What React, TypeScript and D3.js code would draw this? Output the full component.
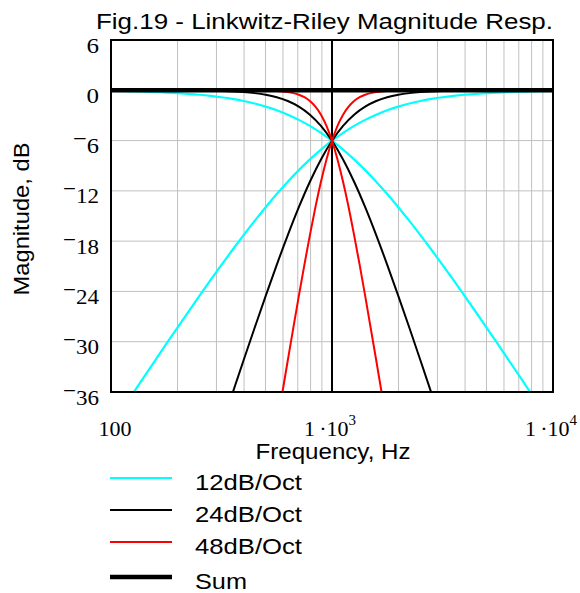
import React from "react";
import * as d3 from "d3";

// ---- Data (frequency in Hz, magnitude in dB) ----
const FREQ = [100, 112.2, 125.9, 141.3, 158.5, 177.8, 199.5, 223.9, 251.2, 281.8, 316.2, 354.8, 398.1, 446.7, 501.2, 562.3, 631.0, 707.9, 794.3, 891.3, 1000, 1122, 1259, 1413, 1585, 1778, 1995, 2239, 2512, 2818, 3162, 3548, 3981, 4467, 5012, 5623, 6310, 7079, 7943, 8913, 10000];

const LP12 = [-0.086, -0.109, -0.137, -0.172, -0.216, -0.270, -0.339, -0.425, -0.532, -0.664, -0.828, -1.030, -1.278, -1.580, -1.947, -2.386, -2.911, -3.529, -4.249, -5.078, -6.021, -7.078, -8.249, -9.529, -10.911, -12.386, -13.947, -15.580, -17.278, -19.030, -20.828, -22.664, -24.532, -26.425, -28.339, -30.270, -32.216, -34.172, -36.137, -38.109, -40.086];
const HP12 = [-40.086, -38.109, -36.137, -34.172, -32.216, -30.270, -28.339, -26.425, -24.532, -22.664, -20.828, -19.030, -17.278, -15.580, -13.947, -12.386, -10.911, -9.529, -8.249, -7.078, -6.021, -5.078, -4.249, -3.529, -2.911, -2.386, -1.947, -1.580, -1.278, -1.030, -0.828, -0.664, -0.532, -0.425, -0.339, -0.270, -0.216, -0.172, -0.137, -0.109, -0.086];

const LP24 = [-0.001, -0.001, -0.002, -0.003, -0.005, -0.009, -0.014, -0.022, -0.035, -0.055, -0.086, -0.137, -0.216, -0.339, -0.532, -0.828, -1.278, -1.947, -2.911, -4.249, -6.021, -8.249, -10.911, -13.947, -17.278, -20.828, -24.532, -28.339, -32.216, -36.137, -40.086, -44.055, -48.035, -52.022, -56.014, -60.009, -64.005, -68.003, -72.002, -76.001, -80.001];
const HP24 = [-80.001, -76.001, -72.002, -68.003, -64.005, -60.009, -56.014, -52.022, -48.035, -44.055, -40.086, -36.137, -32.216, -28.339, -24.532, -20.828, -17.278, -13.947, -10.911, -8.249, -6.021, -4.249, -2.911, -1.947, -1.278, -0.828, -0.532, -0.339, -0.216, -0.137, -0.086, -0.055, -0.035, -0.022, -0.014, -0.009, -0.005, -0.003, -0.002, -0.001, -0.001];

const FREQ48 = [100, 501.2, 530.9, 562.3, 595.7, 631.0, 668.3, 707.9, 749.9, 794.3, 841.4, 891.3, 944.1, 1000, 1059, 1122, 1189, 1259, 1334, 1413, 1496, 1585, 1679, 1778, 1884, 1995, 10000];
const LP48 = [0, -0.035, -0.055, -0.086, -0.137, -0.216, -0.339, -0.532, -0.828, -1.278, -1.947, -2.911, -4.249, -6.021, -8.249, -10.911, -13.947, -17.278, -20.828, -24.532, -28.339, -32.216, -36.137, -40.086, -44.055, -48.035, -160];
const HP48 = [-160, -48.035, -44.055, -40.086, -36.137, -32.216, -28.339, -24.532, -20.828, -17.278, -13.947, -10.911, -8.249, -6.021, -4.249, -2.911, -1.947, -1.278, -0.828, -0.532, -0.339, -0.216, -0.137, -0.086, -0.055, -0.035, 0];

const SUM_FREQ = [100, 10000];
const SUM_DB = [0, 0];

const Y_TICKS = [6, 0, -6, -12, -18, -24, -30, -36];
const X_MINOR = [200, 300, 400, 500, 600, 700, 800, 900, 2000, 3000, 4000, 5000, 6000, 7000, 8000, 9000];
const X_LABELS = [
  { f: 100, base: "100", sup: "" },
  { f: 1000, base: "1\u2009·10", sup: "3" },
  { f: 10000, base: "1\u2009·10", sup: "4" },
];

const LEGEND = [
  { label: "12dB/Oct", color: "#00ffff", w: 2 },
  { label: "24dB/Oct", color: "#000000", w: 2 },
  { label: "48dB/Oct", color: "#ff0000", w: 2 },
  { label: "Sum", color: "#000000", w: 4.5 },
];

const TITLE = "Fig.19 - Linkwitz-Riley Magnitude Resp.";

export default function App() {
  const L = 111, R = 553, T = 40, B = 392;
  const x = d3.scaleLog().domain([100, 10000]).range([L, R]);
  const y = d3.scaleLinear().domain([-36, 6]).range([B, T]);
  const line = (fs: number[], vs: number[]) =>
    d3.line<number>().x((_, i) => x(fs[i])).y((v) => y(v)).curve(d3.curveMonotoneX)(vs) || "";

  const series = [
    { fs: FREQ, vs: LP12, color: "#00ffff", w: 2.2 },
    { fs: FREQ, vs: HP12, color: "#00ffff", w: 2.2 },
    { fs: FREQ, vs: LP24, color: "#000000", w: 2 },
    { fs: FREQ, vs: HP24, color: "#000000", w: 2 },
    { fs: FREQ48, vs: LP48, color: "#ff0000", w: 2 },
    { fs: FREQ48, vs: HP48, color: "#ff0000", w: 2 },
    { fs: SUM_FREQ, vs: SUM_DB, color: "#000000", w: 4.5 },
  ];

  const sans = "'Liberation Sans', Arial, sans-serif";
  const serif = "'Liberation Serif', 'Times New Roman', serif";

  return (
    <svg width={580} height={593} style={{ position: "absolute", left: 0, top: 0, background: "#fff" }}>
      <defs>
        <clipPath id="plot">
          <rect x={L} y={T} width={R - L} height={B - T} />
        </clipPath>
      </defs>
      <rect width={580} height={593} fill="#fff" />
      <text x={96} y={29} fontFamily={sans} fontSize={22} textLength={457} lengthAdjust="spacingAndGlyphs">{TITLE}</text>

      {/* grid */}
      {X_MINOR.map((f) => (
        <line key={"gx" + f} x1={x(f)} x2={x(f)} y1={T} y2={B} stroke="#c0c0c0" strokeWidth={1} />
      ))}
      {Y_TICKS.filter((t) => t !== 6 && t !== -36 && t !== 0).map((t) => (
        <line key={"gy" + t} x1={L} x2={R} y1={y(t)} y2={y(t)} stroke="#c0c0c0" strokeWidth={1} />
      ))}
      <line x1={x(1000)} x2={x(1000)} y1={T} y2={B} stroke="#000" strokeWidth={2} />

      <g clipPath="url(#plot)">
        {series.map((s, i) => (
          <path key={i} d={line(s.fs, s.vs)} fill="none" stroke={s.color} strokeWidth={s.w} />
        ))}
      </g>
      <rect x={L} y={T} width={R - L} height={B - T} fill="none" stroke="#000" strokeWidth={2} />

      {/* y tick labels */}
      {Y_TICKS.map((t) => {
        const s = String(Math.abs(t));
        const len = t < 0 ? (s.length === 1 ? 26 : 36) : 12.5;
        return (
          <text key={"yl" + t} x={99 - len} y={y(t) + 12.5} fontFamily={serif} fontSize={22} textLength={len} lengthAdjust="spacingAndGlyphs">
            {t < 0 ? (
              <>
                <tspan dy={-7}>−</tspan>
                <tspan dy={7}>{s}</tspan>
              </>
            ) : (
              s
            )}
          </text>
        );
      })}

      {/* x tick labels */}
      {X_LABELS.map((l) => (
        <text key={"xl" + l.f} x={x(l.f) + (l.sup ? -2 : 4)} y={436} textAnchor="middle" fontFamily={serif} fontSize={22}>
          <tspan>{l.base}</tspan>
          {l.sup && <tspan dy={-11} fontSize={15}>{l.sup}</tspan>}
        </text>
      ))}

      <text x={333} y={459} textAnchor="middle" fontFamily={sans} fontSize={22} textLength={155} lengthAdjust="spacingAndGlyphs">Frequency, Hz</text>
      <text transform="translate(29,219) rotate(-90)" textAnchor="middle" fontFamily={sans} fontSize={22} textLength={153} lengthAdjust="spacingAndGlyphs">Magnitude, dB</text>

      {/* legend */}
      {LEGEND.map((l, i) => {
        const ly = [478, 510, 542, 577][i];
        return (
          <g key={l.label}>
            <line x1={110} x2={172} y1={ly} y2={ly} stroke={l.color} strokeWidth={l.w} />
            <text x={195} y={ly + 12} fontFamily={sans} fontSize={22} textLength={l.label === "Sum" ? 52 : 107} lengthAdjust="spacingAndGlyphs">{l.label}</text>
          </g>
        );
      })}
    </svg>
  );
}
